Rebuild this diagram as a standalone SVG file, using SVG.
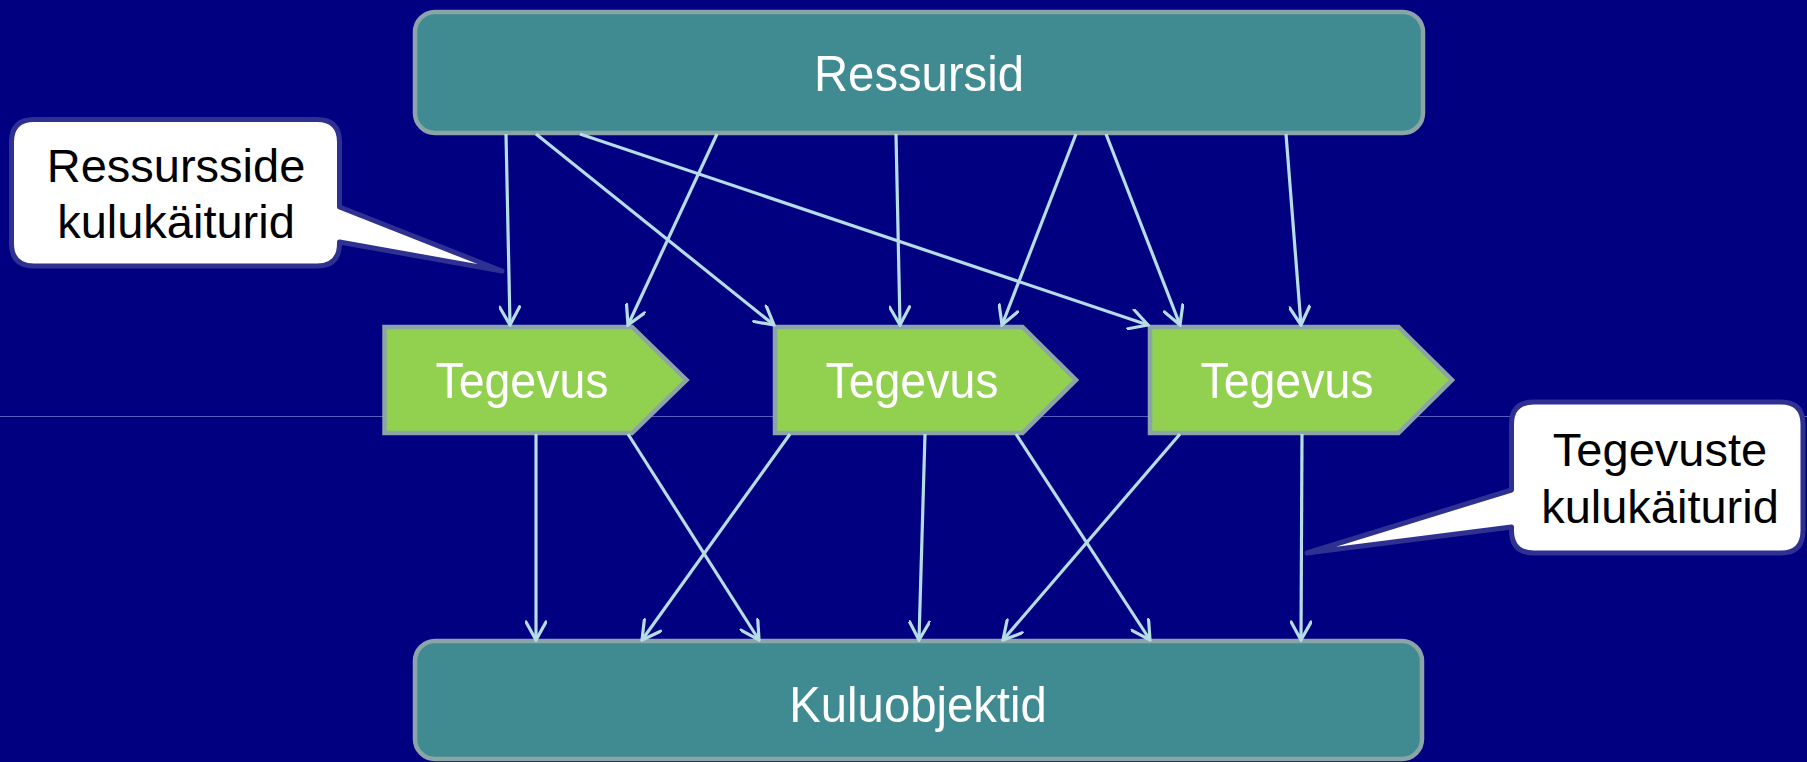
<svg xmlns="http://www.w3.org/2000/svg" width="1807" height="762" viewBox="0 0 1807 762">
<style>
.bg{fill:#000080}
.teal{fill:#3F8B91;stroke:#8AA4A8;stroke-width:4.5}
.act{fill:#92D050;stroke:#8AA4A8;stroke-width:4.5;stroke-linejoin:miter}
.call{fill:#FFFFFF;stroke:#2E3192;stroke-width:5;stroke-linejoin:round}
.wt{fill:#FFFFFF;font-family:"Liberation Sans",Arial,sans-serif;text-anchor:middle;font-size:50px}
.bt{fill:#000000;font-family:"Liberation Sans",Arial,sans-serif;text-anchor:middle;font-size:47px}
.con line{stroke:#B5DDE6;stroke-width:3.2;fill:none;marker-end:url(#arr)}
</style>
<defs>
<marker id="arr" viewBox="0 0 22 22" refX="20" refY="11" markerWidth="22" markerHeight="22" markerUnits="userSpaceOnUse" orient="auto">
<path d="M2,1 L20,11 L2,21" fill="none" stroke="#B5DDE6" stroke-width="3.2" stroke-linecap="round" stroke-linejoin="miter"/>
</marker>
</defs>
<rect class="bg" x="0" y="0" width="1807" height="762"/>
<line x1="0" y1="416.5" x2="1807" y2="416.5" stroke="#5C5CC0" stroke-width="1.2"/>

<g id="ressursid">
<rect class="teal" x="415" y="12" width="1008" height="121" rx="20"/>
<text class="wt" transform="translate(919,91) scale(0.945,1)">Ressursid</text>
</g>

<g id="tegevus1">
<polygon class="act" points="384.5,327 632,327 686.5,380 632,433 384.5,433"/>
<text class="wt" transform="translate(522,398) scale(0.93,1)" font-size="49">Tegevus</text>
</g>
<g id="tegevus2">
<polygon class="act" points="775,327 1022.5,327 1076,380 1022.5,433 775,433"/>
<text class="wt" transform="translate(912,398) scale(0.93,1)" font-size="49">Tegevus</text>
</g>
<g id="tegevus3">
<polygon class="act" points="1150,327 1398.5,327 1452,380 1398.5,433 1150,433"/>
<text class="wt" transform="translate(1287,398) scale(0.93,1)" font-size="49">Tegevus</text>
</g>

<g id="kuluobjektid">
<rect class="teal" x="415" y="641" width="1007" height="118" rx="20"/>
<text class="wt" transform="translate(918,722) scale(0.945,1)">Kuluobjektid</text>
</g>

<g id="connectors" class="con">
<line x1="506" y1="134" x2="510" y2="325"/>
<line x1="536" y1="134" x2="774" y2="325"/>
<line x1="580" y1="134" x2="1148" y2="325"/>
<line x1="717" y1="134" x2="628" y2="325"/>
<line x1="896" y1="134" x2="900" y2="325"/>
<line x1="1076" y1="134" x2="1002" y2="325"/>
<line x1="1106" y1="134" x2="1180" y2="325"/>
<line x1="1286" y1="134" x2="1301" y2="325"/>
<line x1="536" y1="434" x2="536" y2="640"/>
<line x1="628" y1="434" x2="759" y2="640"/>
<line x1="790" y1="434" x2="642" y2="640"/>
<line x1="925" y1="434" x2="919" y2="640"/>
<line x1="1016" y1="434" x2="1150" y2="640"/>
<line x1="1180" y1="434" x2="1003" y2="640"/>
<line x1="1302" y1="434" x2="1301" y2="640"/>
</g>

<g id="callout-ressursside">
<path class="call" d="M34,119.5 H317 Q339.5,119.5 339.5,142 V207 L502,271 L339.5,242 V243.5 Q339.5,266 317,266 H34 Q11.5,266 11.5,243.5 V142 Q11.5,119.5 34,119.5 Z"/>
<text class="bt" x="176" y="182">Ressursside</text>
<text class="bt" x="176" y="238">kulukäiturid</text>
</g>

<g id="callout-tegevuste">
<path class="call" d="M1534,402 H1781 Q1803,402 1803,424 V530.5 Q1803,553 1781,553 H1534 Q1511.5,553 1511.5,530.5 V527 L1307,553 L1511.5,490 V424 Q1511.5,402 1534,402 Z"/>
<text class="bt" x="1660" y="466">Tegevuste</text>
<text class="bt" x="1660" y="523">kulukäiturid</text>
</g>
</svg>
